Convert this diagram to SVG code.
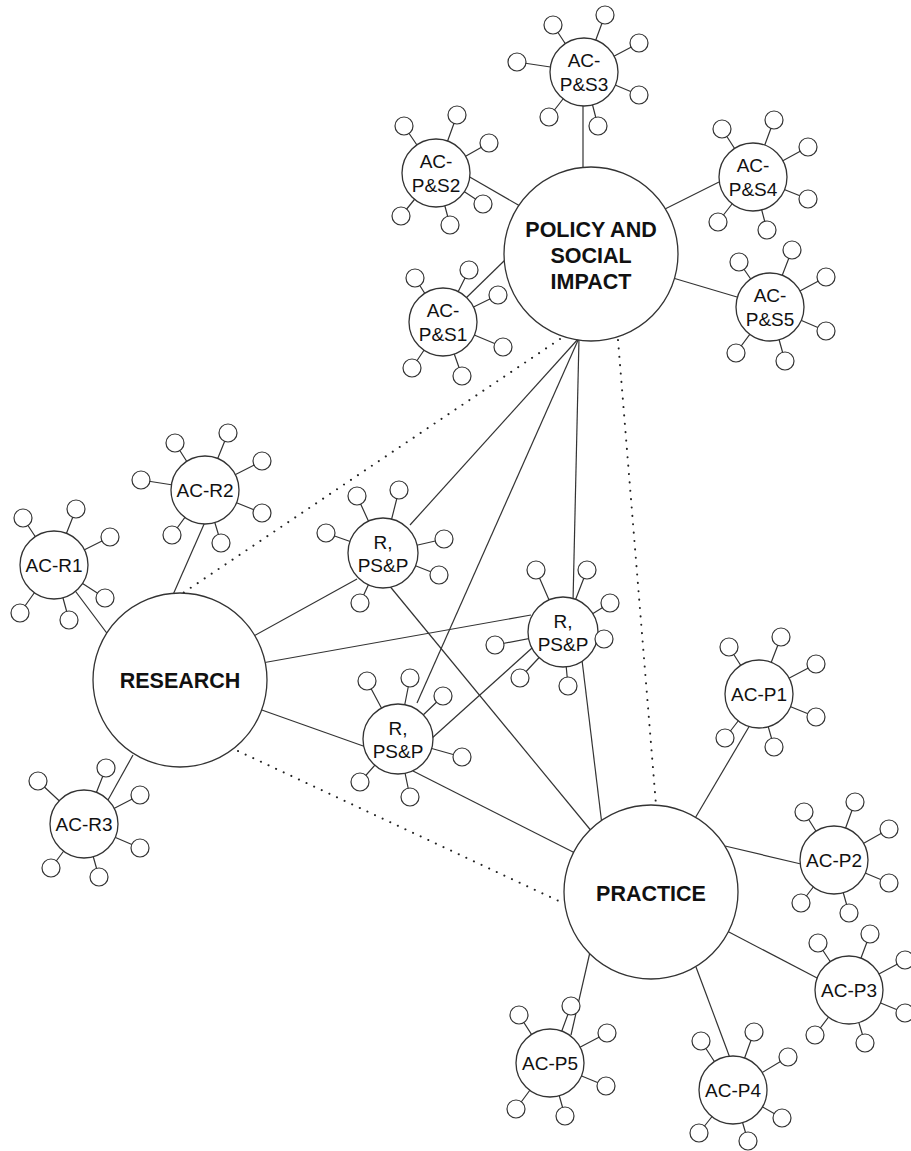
<svg xmlns="http://www.w3.org/2000/svg" width="911" height="1151" viewBox="0 0 911 1151">
<style>
.ln{stroke:#333;stroke-width:1.2;fill:none}
.dot{stroke:#222;stroke-width:2;fill:none;stroke-dasharray:0.1 8.3;stroke-linecap:round}
.nd{fill:#fff;stroke:#333;stroke-width:1.3}
.sat{fill:#fff;stroke:#333;stroke-width:1.2}
.t{font-family:"Liberation Sans",Arial,sans-serif;font-size:19px;fill:#111;text-anchor:middle}
.b{font-weight:bold;font-size:21.5px}
</style>
<rect width="911" height="1151" fill="#fff"/>
<g id="connectors">
<line class="ln" x1="583" y1="104" x2="583" y2="170"/>
<line class="ln" x1="468" y1="176" x2="520" y2="206"/>
<line class="ln" x1="465" y1="299" x2="505" y2="260"/>
<line class="ln" x1="719" y1="182" x2="665" y2="209"/>
<line class="ln" x1="737" y1="297" x2="673" y2="278"/>
<line class="ln" x1="410" y1="525" x2="579" y2="338"/>
<line class="ln" x1="417" y1="703" x2="579" y2="338"/>
<line class="ln" x1="573" y1="602" x2="579" y2="338"/>
<line class="ln" x1="252" y1="637" x2="357" y2="579"/>
<line class="ln" x1="262" y1="663" x2="531" y2="615"/>
<line class="ln" x1="259" y1="709" x2="366" y2="747"/>
<line class="ln" x1="431" y1="739" x2="532" y2="648"/>
<line class="ln" x1="388" y1="584" x2="593" y2="833"/>
<line class="ln" x1="582" y1="660" x2="602" y2="825"/>
<line class="ln" x1="413" y1="771" x2="577" y2="854"/>
<line class="ln" x1="205" y1="522" x2="172" y2="597"/>
<line class="ln" x1="73" y1="588" x2="109" y2="636"/>
<line class="ln" x1="108" y1="800" x2="133" y2="755"/>
<line class="ln" x1="750" y1="725" x2="694" y2="820"/>
<line class="ln" x1="801" y1="864" x2="725" y2="846"/>
<line class="ln" x1="819" y1="979" x2="727" y2="931"/>
<line class="ln" x1="730" y1="1058" x2="696" y2="967"/>
<line class="ln" x1="571" y1="1035" x2="590" y2="952"/>
<line class="dot" x1="560" y1="339" x2="183" y2="593"/>
<line class="dot" x1="238" y1="751" x2="563" y2="903"/>
<line class="dot" x1="618" y1="340" x2="656" y2="805"/>
</g>
<g id="policy">
<circle class="nd" cx="591" cy="254" r="87"/>
<text class="t b" x="591" y="237">POLICY AND</text>
<text class="t b" x="591" y="263">SOCIAL</text>
<text class="t b" x="591" y="289">IMPACT</text>
</g>
<g id="research">
<circle class="nd" cx="180" cy="680" r="87"/>
<text class="t b" x="180" y="688">RESEARCH</text>
</g>
<g id="practice">
<circle class="nd" cx="651" cy="892" r="87"/>
<text class="t b" x="651" y="901">PRACTICE</text>
</g>
<g id="ac-ps3">
<path class="ln" d="M584 72L553 25M584 72L605 15M584 72L639 43M584 72L639 95M584 72L598 126M584 72L549 117M584 72L517 62"/>
<circle class="nd" cx="584" cy="72" r="34"/>
<circle class="sat" cx="553" cy="25" r="9"/><circle class="sat" cx="605" cy="15" r="9"/><circle class="sat" cx="639" cy="43" r="9"/><circle class="sat" cx="639" cy="95" r="9"/><circle class="sat" cx="598" cy="126" r="9"/><circle class="sat" cx="549" cy="117" r="9"/><circle class="sat" cx="517" cy="62" r="9"/>
<text class="t" x="584" y="66.5">AC-</text><text class="t" x="584" y="90.5">P&amp;S3</text>
</g>
<g id="ac-ps2">
<path class="ln" d="M436 173L404 126M436 173L457 115M436 173L489 143M436 173L483 204M436 173L450 225M436 173L401 216"/>
<circle class="nd" cx="436" cy="173" r="34"/>
<circle class="sat" cx="404" cy="126" r="9"/><circle class="sat" cx="457" cy="115" r="9"/><circle class="sat" cx="489" cy="143" r="9"/><circle class="sat" cx="483" cy="204" r="9"/><circle class="sat" cx="450" cy="225" r="9"/><circle class="sat" cx="401" cy="216" r="9"/>
<text class="t" x="436" y="167.5">AC-</text><text class="t" x="436" y="191.5">P&amp;S2</text>
</g>
<g id="ac-ps1">
<path class="ln" d="M443 322L415 278M443 322L469 270M443 322L498 295M443 322L503 347M443 322L462 376M443 322L412 368"/>
<circle class="nd" cx="443" cy="322" r="34"/>
<circle class="sat" cx="415" cy="278" r="9"/><circle class="sat" cx="469" cy="270" r="9"/><circle class="sat" cx="498" cy="295" r="9"/><circle class="sat" cx="503" cy="347" r="9"/><circle class="sat" cx="462" cy="376" r="9"/><circle class="sat" cx="412" cy="368" r="9"/>
<text class="t" x="443" y="316.5">AC-</text><text class="t" x="443" y="340.5">P&amp;S1</text>
</g>
<g id="ac-ps4">
<path class="ln" d="M753 177L722 129M753 177L774 120M753 177L808 147M753 177L808 199M753 177L767 230M753 177L718 222"/>
<circle class="nd" cx="753" cy="177" r="34"/>
<circle class="sat" cx="722" cy="129" r="9"/><circle class="sat" cx="774" cy="120" r="9"/><circle class="sat" cx="808" cy="147" r="9"/><circle class="sat" cx="808" cy="199" r="9"/><circle class="sat" cx="767" cy="230" r="9"/><circle class="sat" cx="718" cy="222" r="9"/>
<text class="t" x="753" y="171.5">AC-</text><text class="t" x="753" y="195.5">P&amp;S4</text>
</g>
<g id="ac-ps5">
<path class="ln" d="M770 307L739 262M770 307L792 250M770 307L826 277M770 307L826 331M770 307L785 361M770 307L736 353"/>
<circle class="nd" cx="770" cy="307" r="34"/>
<circle class="sat" cx="739" cy="262" r="9"/><circle class="sat" cx="792" cy="250" r="9"/><circle class="sat" cx="826" cy="277" r="9"/><circle class="sat" cx="826" cy="331" r="9"/><circle class="sat" cx="785" cy="361" r="9"/><circle class="sat" cx="736" cy="353" r="9"/>
<text class="t" x="770" y="301.5">AC-</text><text class="t" x="770" y="325.5">P&amp;S5</text>
</g>
<g id="ac-r2">
<path class="ln" d="M205 490L175 443M205 490L228 433M205 490L262 461M205 490L262 513M205 490L221 543M205 490L172 535M205 490L141 480"/>
<circle class="nd" cx="205" cy="490" r="34"/>
<circle class="sat" cx="175" cy="443" r="9"/><circle class="sat" cx="228" cy="433" r="9"/><circle class="sat" cx="262" cy="461" r="9"/><circle class="sat" cx="262" cy="513" r="9"/><circle class="sat" cx="221" cy="543" r="9"/><circle class="sat" cx="172" cy="535" r="9"/><circle class="sat" cx="141" cy="480" r="9"/>
<text class="t" x="205" y="497">AC-R2</text>
</g>
<g id="ac-r1">
<path class="ln" d="M54 565L23 518M54 565L76 509M54 565L110 537M54 565L105 598M54 565L69 620M54 565L20 613"/>
<circle class="nd" cx="54" cy="565" r="34"/>
<circle class="sat" cx="23" cy="518" r="9"/><circle class="sat" cx="76" cy="509" r="9"/><circle class="sat" cx="110" cy="537" r="9"/><circle class="sat" cx="105" cy="598" r="9"/><circle class="sat" cx="69" cy="620" r="9"/><circle class="sat" cx="20" cy="613" r="9"/>
<text class="t" x="54" y="572">AC-R1</text>
</g>
<g id="ac-r3">
<path class="ln" d="M84 824L38 781M84 824L106 768M84 824L140 795M84 824L140 848M84 824L99 877M84 824L51 868"/>
<circle class="nd" cx="84" cy="824" r="34"/>
<circle class="sat" cx="38" cy="781" r="9"/><circle class="sat" cx="106" cy="768" r="9"/><circle class="sat" cx="140" cy="795" r="9"/><circle class="sat" cx="140" cy="848" r="9"/><circle class="sat" cx="99" cy="877" r="9"/><circle class="sat" cx="51" cy="868" r="9"/>
<text class="t" x="84" y="831">AC-R3</text>
</g>
<g id="rpsp-a">
<path class="ln" d="M383 553L357 496M383 553L399 490M383 553L444 539M383 553L439 575M383 553L360 603M383 553L326 533"/>
<circle class="nd" cx="383" cy="553" r="35"/>
<circle class="sat" cx="357" cy="496" r="9"/><circle class="sat" cx="399" cy="490" r="9"/><circle class="sat" cx="444" cy="539" r="9"/><circle class="sat" cx="439" cy="575" r="9"/><circle class="sat" cx="360" cy="603" r="9"/><circle class="sat" cx="326" cy="533" r="9"/>
<text class="t" x="383" y="549">R,</text><text class="t" x="383" y="572">PS&amp;P</text>
</g>
<g id="rpsp-b">
<path class="ln" d="M563 632L536 570M563 632L587 570M563 632L610 603M563 632L604 639M563 632L568 686M563 632L520 678M563 632L495 645"/>
<circle class="nd" cx="563" cy="632" r="35"/>
<circle class="sat" cx="536" cy="570" r="9"/><circle class="sat" cx="587" cy="570" r="9"/><circle class="sat" cx="610" cy="603" r="9"/><circle class="sat" cx="604" cy="639" r="9"/><circle class="sat" cx="568" cy="686" r="9"/><circle class="sat" cx="520" cy="678" r="9"/><circle class="sat" cx="495" cy="645" r="9"/>
<text class="t" x="563" y="628">R,</text><text class="t" x="563" y="651">PS&amp;P</text>
</g>
<g id="rpsp-c">
<path class="ln" d="M398 739L367 681M398 739L410 678M398 739L443 696M398 739L462 757M398 739L410 797M398 739L360 782"/>
<circle class="nd" cx="398" cy="739" r="35"/>
<circle class="sat" cx="367" cy="681" r="9"/><circle class="sat" cx="410" cy="678" r="9"/><circle class="sat" cx="443" cy="696" r="9"/><circle class="sat" cx="462" cy="757" r="9"/><circle class="sat" cx="410" cy="797" r="9"/><circle class="sat" cx="360" cy="782" r="9"/>
<text class="t" x="398" y="735">R,</text><text class="t" x="398" y="758">PS&amp;P</text>
</g>
<g id="ac-p1">
<path class="ln" d="M759 694L729 647M759 694L781 637M759 694L816 664M759 694L816 717M759 694L774 747M759 694L725 738"/>
<circle class="nd" cx="759" cy="694" r="34"/>
<circle class="sat" cx="729" cy="647" r="9"/><circle class="sat" cx="781" cy="637" r="9"/><circle class="sat" cx="816" cy="664" r="9"/><circle class="sat" cx="816" cy="717" r="9"/><circle class="sat" cx="774" cy="747" r="9"/><circle class="sat" cx="725" cy="738" r="9"/>
<text class="t" x="759" y="701">AC-P1</text>
</g>
<g id="ac-p2">
<path class="ln" d="M834 860L804 812M834 860L855 802M834 860L889 829M834 860L889 883M834 860L849 913M834 860L801 903"/>
<circle class="nd" cx="834" cy="860" r="34"/>
<circle class="sat" cx="804" cy="812" r="9"/><circle class="sat" cx="855" cy="802" r="9"/><circle class="sat" cx="889" cy="829" r="9"/><circle class="sat" cx="889" cy="883" r="9"/><circle class="sat" cx="849" cy="913" r="9"/><circle class="sat" cx="801" cy="903" r="9"/>
<text class="t" x="834" y="867">AC-P2</text>
</g>
<g id="ac-p3">
<path class="ln" d="M849 990L818 943M849 990L870 934M849 990L905 960M849 990L905 1013M849 990L865 1043M849 990L815 1035"/>
<circle class="nd" cx="849" cy="990" r="34"/>
<circle class="sat" cx="818" cy="943" r="9"/><circle class="sat" cx="870" cy="934" r="9"/><circle class="sat" cx="905" cy="960" r="9"/><circle class="sat" cx="905" cy="1013" r="9"/><circle class="sat" cx="865" cy="1043" r="9"/><circle class="sat" cx="815" cy="1035" r="9"/>
<text class="t" x="849" y="997">AC-P3</text>
</g>
<g id="ac-p4">
<path class="ln" d="M733 1090L701 1041M733 1090L754 1032M733 1090L788 1057M733 1090L782 1118M733 1090L748 1141M733 1090L699 1133"/>
<circle class="nd" cx="733" cy="1090" r="34"/>
<circle class="sat" cx="701" cy="1041" r="9"/><circle class="sat" cx="754" cy="1032" r="9"/><circle class="sat" cx="788" cy="1057" r="9"/><circle class="sat" cx="782" cy="1118" r="9"/><circle class="sat" cx="748" cy="1141" r="9"/><circle class="sat" cx="699" cy="1133" r="9"/>
<text class="t" x="733" y="1097">AC-P4</text>
</g>
<g id="ac-p5">
<path class="ln" d="M550 1063L519 1015M550 1063L571 1006M550 1063L607 1033M550 1063L606 1086M550 1063L565 1116M550 1063L516 1109"/>
<circle class="nd" cx="550" cy="1063" r="34"/>
<circle class="sat" cx="519" cy="1015" r="9"/><circle class="sat" cx="571" cy="1006" r="9"/><circle class="sat" cx="607" cy="1033" r="9"/><circle class="sat" cx="606" cy="1086" r="9"/><circle class="sat" cx="565" cy="1116" r="9"/><circle class="sat" cx="516" cy="1109" r="9"/>
<text class="t" x="550" y="1070">AC-P5</text>
</g>
</svg>
